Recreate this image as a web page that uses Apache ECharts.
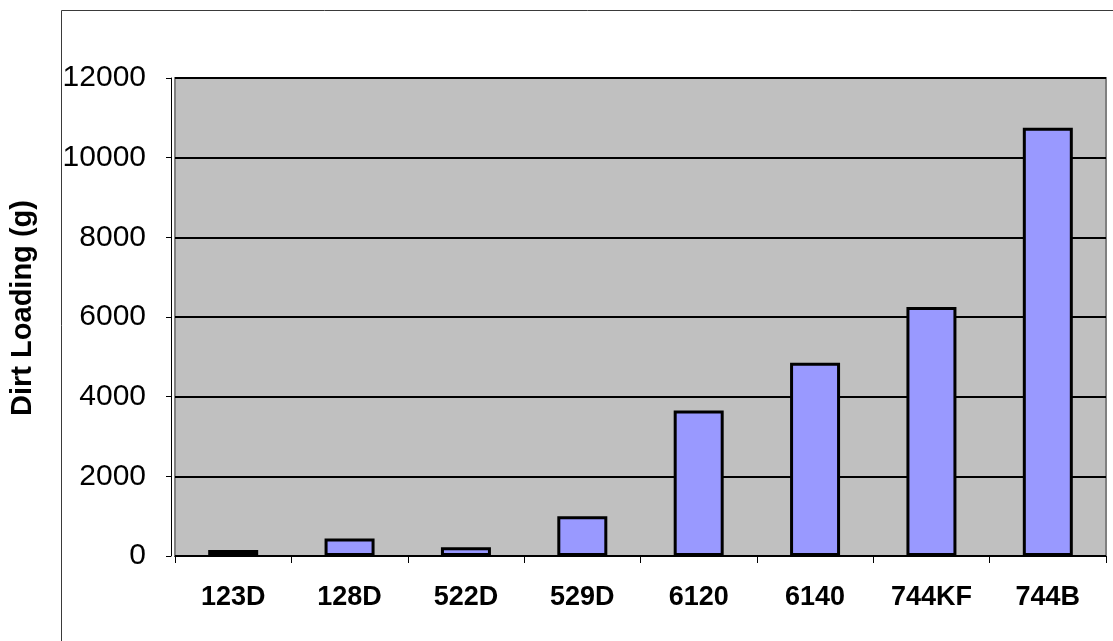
<!DOCTYPE html>
<html>
<head>
<meta charset="utf-8">
<script src="https://cdn.jsdelivr.net/npm/echarts@6/dist/echarts.min.js"></script>
<style>
  html, body { margin: 0; padding: 0; background: #ffffff; }
  #chart { width: 1113px; height: 641px; }
</style>
</head>
<body>
<div id="chart"></div>
<script>
// Dirt loading per unit (grams)
const categories = ['123D', '128D', '522D', '529D', '6120', '6140', '744KF', '744B'];
const dirtLoading = [150, 440, 220, 1000, 3650, 4850, 6250, 10750];
const yTicks = [0, 2000, 4000, 6000, 8000, 10000, 12000];
const yTitle = 'Dirt Loading (g)';

const chart = echarts.init(document.getElementById('chart'), null, { renderer: 'canvas' });

chart.setOption({
  animation: false,
  backgroundColor: '#ffffff',
  textStyle: { fontFamily: 'Liberation Sans, Arial, sans-serif' },
  graphic: [
    // outer chart frame (only top and left edges are visible)
    {
      type: 'polyline',
      silent: true,
      shape: { points: [[61.5, 641], [61.5, 10.5], [1113, 10.5]] },
      style: { fill: null, stroke: '#3a3a3a', lineWidth: 1 }
    }
  ],
  grid: {
    left: 168,
    right: 7,
    top: 78,
    bottom: 85,
    show: true,
    backgroundColor: '#c0c0c0',
    borderColor: '#808080',
    borderWidth: 2
  },
  xAxis: {
    type: 'category',
    data: categories,
    boundaryGap: true,
    axisLine: { show: true, lineStyle: { color: '#000000', width: 1 } },
    axisTick: { show: true, length: 7, alignWithLabel: false, lineStyle: { color: '#000000', width: 1 } },
    axisLabel: {
      margin: 28,
      color: '#000000',
      fontSize: 27,
      fontWeight: 'bold',
      fontFamily: 'Liberation Sans, Arial, sans-serif'
    },
    splitLine: { show: false }
  },
  yAxis: {
    type: 'value',
    min: yTicks[0],
    max: yTicks[yTicks.length - 1],
    interval: yTicks[1] - yTicks[0],
    offset: 4,
    name: yTitle,
    nameLocation: 'middle',
    nameGap: 134,
    nameRotate: 90,
    nameTextStyle: {
      color: '#000000',
      fontSize: 29,
      fontWeight: 'bold',
      fontFamily: 'Liberation Sans, Arial, sans-serif',
      padding: [0, 0, 0, 18]
    },
    axisLine: { show: true, lineStyle: { color: '#000000', width: 1 } },
    axisTick: { show: true, length: 5, lineStyle: { color: '#000000', width: 1 } },
    axisLabel: {
      margin: 25,
      color: '#000000',
      fontSize: 30,
      fontFamily: 'Liberation Sans, Arial, sans-serif',
      formatter: function (v) { return String(v); }
    },
    splitLine: { show: true, lineStyle: { color: '#000000', width: 2 } }
  },
  series: [
    {
      type: 'bar',
      data: dirtLoading,
      barWidth: 50,
      itemStyle: {
        color: '#9999ff',
        borderColor: '#000000',
        borderWidth: 3
      }
    }
  ]
});
</script>
</body>
</html>
